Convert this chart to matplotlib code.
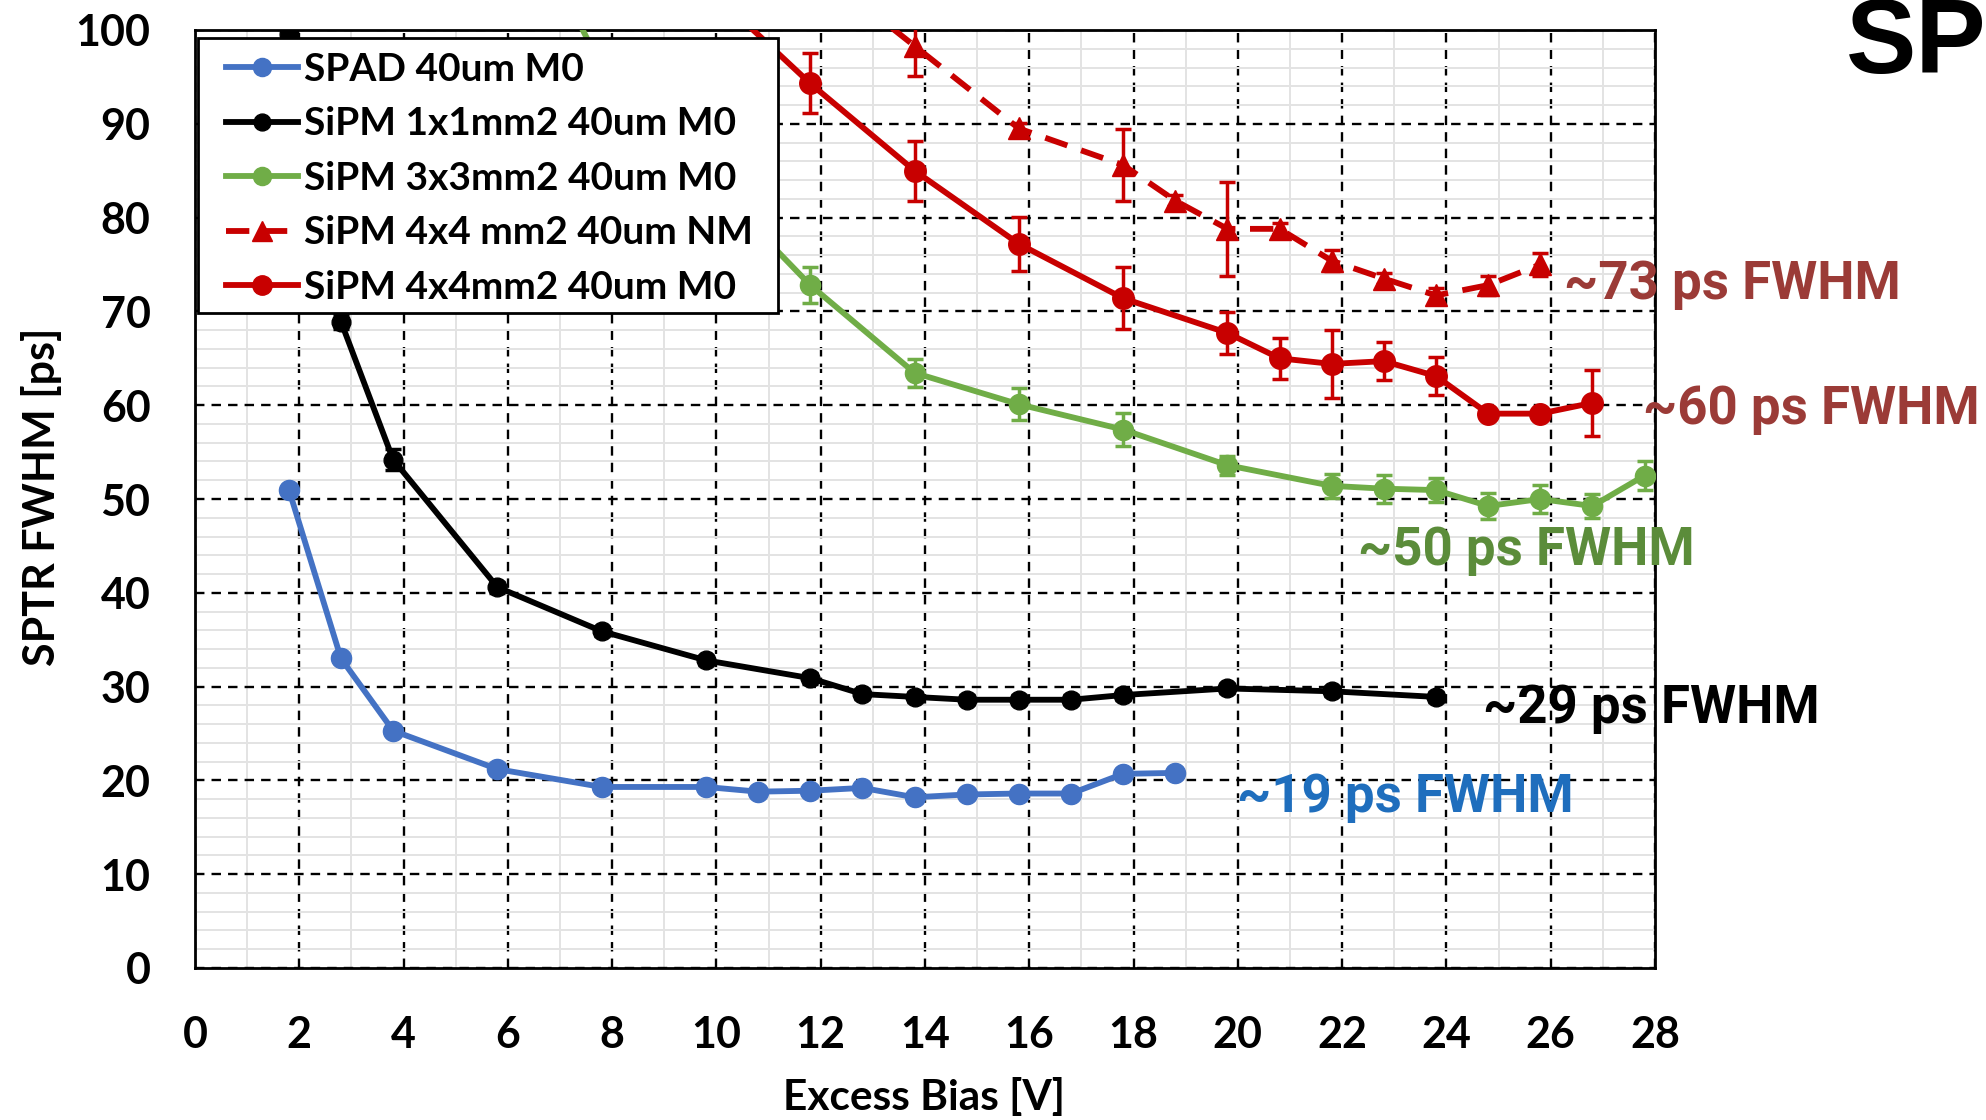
import matplotlib
matplotlib.use("Agg")
import matplotlib.pyplot as plt
from matplotlib.ticker import MultipleLocator
from matplotlib.patches import Rectangle

# ---------------- data ----------------
bias_spad = [1.8, 2.8, 3.8, 5.8, 7.8, 9.8, 10.8, 11.8, 12.8, 13.8, 14.8, 15.8, 16.8, 17.8, 18.8]
sptr_spad = [51.0, 33.0, 25.3, 21.2, 19.3, 19.3, 18.8, 18.9, 19.2, 18.2, 18.5, 18.6, 18.6, 20.7, 20.8]
err_spad = [0.5] * len(bias_spad)

bias_1x1 = [1.8, 2.8, 3.8, 5.8, 7.8, 9.8, 11.8, 12.8, 13.8, 14.8, 15.8, 16.8, 17.8, 19.8, 21.8, 23.8]
sptr_1x1 = [99.6, 68.9, 54.2, 40.6, 35.9, 32.8, 30.9, 29.2, 28.9, 28.6, 28.6, 28.6, 29.1, 29.8, 29.5, 28.9]
err_1x1 = [0.6, 0.8, 1.1, 0.6, 0.5, 0.5, 0.6, 0.5, 0.5, 0.5, 0.5, 0.5, 0.5, 0.5, 0.5, 0.5]

bias_3x3 = [5.8, 7.8, 9.8, 11.8, 13.8, 15.8, 17.8, 19.8, 21.8, 22.8, 23.8, 24.8, 25.8, 26.8, 27.8]
sptr_3x3 = [118.0, 96.0, 84.3, 72.8, 63.45, 60.1, 57.4, 53.6, 51.4, 51.1, 50.95, 49.25, 50.0, 49.25, 52.5]
err_3x3 = [1.8, 1.8, 1.8, 1.9, 1.5, 1.7, 1.8, 1.0, 1.3, 1.5, 1.3, 1.35, 1.5, 1.25, 1.5]

bias_nm = [12.8, 13.8, 15.8, 17.8, 18.8, 19.8, 20.8, 21.8, 22.8, 23.8, 24.8, 25.8]
sptr_nm = [102.7, 98.3, 89.5, 85.6, 81.8, 78.8, 78.8, 75.4, 73.5, 71.7, 72.8, 75.0]
err_nm = [2.0, 3.2, 0.6, 3.8, 0.6, 5.0, 0.6, 1.1, 0.6, 0.8, 1.0, 1.2]

bias_4x4 = [9.8, 11.8, 13.8, 15.8, 17.8, 19.8, 20.8, 21.8, 22.8, 23.8, 24.8, 25.8, 26.8]
sptr_4x4 = [104.7, 94.3, 85.0, 77.2, 71.4, 67.7, 65.0, 64.4, 64.7, 63.1, 59.1, 59.1, 60.25]
err_4x4 = [3.2, 3.2, 3.2, 2.9, 3.3, 2.2, 2.2, 3.6, 2.0, 2.0, 0.5, 0.5, 3.5]

labels = ["SPAD 40um M0", "SiPM 1x1mm2 40um M0", "SiPM 3x3mm2 40um M0",
          "SiPM 4x4 mm2 40um NM", "SiPM 4x4mm2 40um M0"]
x_ticks = list(range(0, 29, 2))
y_ticks = list(range(0, 101, 10))

annotations = ["~73 ps FWHM", "~60 ps FWHM", "~50 ps FWHM", "~29 ps FWHM", "~19 ps FWHM"]
ann_pos = [(26.26, 71.3), (27.77, 58.0), (22.30, 43.0), (24.70, 26.15), (19.98, 16.6)]
ann_col = ["#9B3B37", "#9B3B37", "#5B8C3A", "#000000", "#1F6EBD"]

# ---------------- style ----------------
BLUE = "#4472C4"
BLACK = "#000000"
GREEN = "#70AD47"
RED = "#C80000"
LBL_FONT = ["Lato", "DejaVu Sans"]
ANN_FONT = ["Roboto", "DejaVu Sans"]

W, H = 1986, 1120
AX_L, AX_R, AX_T, AX_B = 195, 1655, 30, 968
fig = plt.figure(figsize=(W / 100, H / 100), dpi=100)
ax = fig.add_axes([AX_L / W, 1 - AX_B / H, (AX_R - AX_L) / W, (AX_B - AX_T) / H])


def ax_frac(px, py):
    return (px - AX_L) / (AX_R - AX_L), (AX_B - py) / (AX_B - AX_T)


ax.set_xlim(0, 28)
ax.set_ylim(0, 100)
ax.set_xticks(x_ticks)
ax.set_yticks(y_ticks)
ax.xaxis.set_minor_locator(MultipleLocator(1))
ax.yaxis.set_minor_locator(MultipleLocator(2))
ax.grid(which="minor", color="#E3E3E3", lw=1.4, ls="-", zorder=0)
ax.grid(which="major", color="black", lw=1.7, ls=(0, (4, 3)), zorder=1)
ax.set_axisbelow(True)
ax.tick_params(which="both", length=0)
ax.tick_params(axis="y", pad=32)
ax.tick_params(axis="x", pad=34)
for lab in ax.get_xticklabels() + ax.get_yticklabels():
    lab.set_fontfamily(LBL_FONT)
    lab.set_fontweight("bold")
    lab.set_fontsize(31)
for sp in ax.spines.values():
    sp.set_linewidth(2)
    sp.set_color("black")

series = [
    (bias_spad, sptr_spad, err_spad, BLUE, "o", "-", 14.5, labels[0]),
    (bias_1x1, sptr_1x1, err_1x1, BLACK, "o", "-", 13.5, labels[1]),
    (bias_3x3, sptr_3x3, err_3x3, GREEN, "o", "-", 14.5, labels[2]),
    (bias_nm, sptr_nm, err_nm, RED, "^", (0, (4, 2.5)), 15.5, labels[3]),
    (bias_4x4, sptr_4x4, err_4x4, RED, "o", "-", 15.5, labels[4]),
]
handles = []
for i, (xs, ys, es, c, m, ls, ms, lab) in enumerate(series):
    ax.errorbar(xs, ys, yerr=es, fmt="none", ecolor=c, elinewidth=2.5,
                capsize=5.5, capthick=2.5, zorder=3 + i)
    h, = ax.plot(xs, ys, color=c, marker=m, ls=ls, lw=4.2, ms=ms,
                 mec=c, mfc=c, label=lab, zorder=3 + i)
    handles.append(h)

# legend frame drawn separately to control padding
fx0, fy0 = ax_frac(198, 313)
fx1, fy1 = ax_frac(778, 38)
frame = Rectangle((fx0, fy0), fx1 - fx0, fy1 - fy0, transform=ax.transAxes,
                  facecolor="white", edgecolor="black", lw=2, zorder=19, clip_on=False)
ax.add_patch(frame)
lx, ly = ax_frac(226, 52)
leg = ax.legend(handles=handles, loc="upper left", bbox_to_anchor=(lx, ly),
                borderaxespad=0, frameon=False,
                prop={"family": LBL_FONT, "weight": "bold", "size": 28},
                handlelength=1.85, handletextpad=0.15, labelspacing=0.5,
                borderpad=0, markerscale=0.9, numpoints=1)
leg.set_zorder(20)

for txt, (xx, yy), c in zip(annotations, ann_pos, ann_col):
    ax.text(xx, yy, txt, color=c, fontsize=38, fontweight="bold", family=ANN_FONT,
            ha="left", va="baseline", clip_on=False, zorder=30)

fig.text(42 / W, 1 - 497 / H, "SPTR FWHM [ps]", rotation=90, ha="center", va="center",
         fontsize=31, fontweight="bold", family=LBL_FONT)
fig.text(924 / W, 1 - 1097 / H, "Excess Bias [V]", ha="center", va="center",
         fontsize=30.5, fontweight="bold", family=LBL_FONT)
fig.text(1846 / W, 1 - 73 / H, "SP", ha="left", va="baseline",
         fontsize=76, fontweight="bold", family=["Liberation Sans", "DejaVu Sans"])

fig.savefig("out.png", dpi=100)
